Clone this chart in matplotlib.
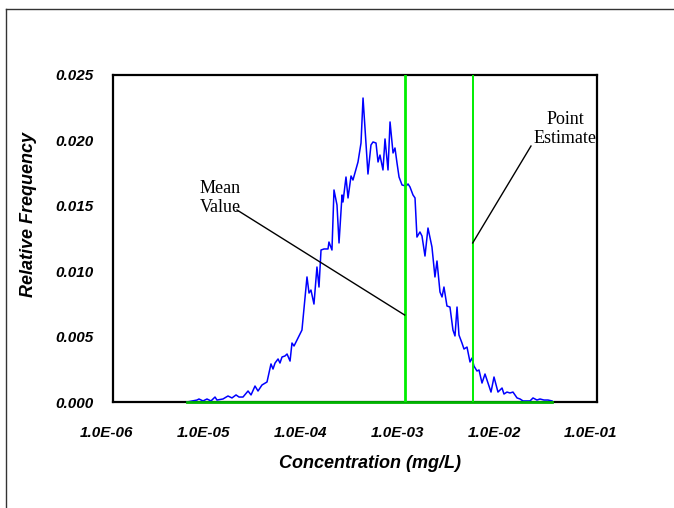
import matplotlib
matplotlib.use("Agg")
import matplotlib.pyplot as plt
import numpy as np
from matplotlib.transforms import ScaledTranslation
from matplotlib.lines import Line2D

# log10 of concentration (mg/L) for each histogram point
log_conc = [
    -5.236, -5.132, -5.112, -5.070, -5.029, -4.988, -4.946, -4.926, -4.864, -4.812,
    -4.771, -4.729, -4.698, -4.657, -4.605, -4.574, -4.533, -4.502, -4.461, -4.409,
    -4.368, -4.347, -4.326, -4.295, -4.275, -4.254, -4.223, -4.202, -4.171, -4.151,
    -4.130, -4.048, -3.996, -3.975, -3.955, -3.924, -3.893, -3.872, -3.851, -3.820,
    -3.779, -3.769, -3.738, -3.717, -3.686, -3.665, -3.634, -3.624, -3.593, -3.572,
    -3.541, -3.521, -3.469, -3.438, -3.417, -3.366, -3.335, -3.314, -3.283, -3.262,
    -3.242, -3.211, -3.190, -3.159, -3.138, -3.107, -3.087, -3.066, -3.045, -3.014,
    -2.973, -2.952, -2.932, -2.901, -2.880, -2.860, -2.829, -2.808, -2.777, -2.746,
    -2.705, -2.674, -2.653, -2.622, -2.601, -2.581, -2.550, -2.519, -2.488, -2.467,
    -2.446, -2.426, -2.395, -2.374, -2.343, -2.312, -2.291, -2.271, -2.240, -2.219,
    -2.188, -2.157, -2.126, -2.095, -2.064, -2.023, -1.981, -1.961, -1.930, -1.899,
    -1.868, -1.826, -1.795, -1.764, -1.692, -1.661, -1.620, -1.589, -1.548, -1.506,
    -1.465,
]
rel_freq = [
    0.00000, 0.00015, 0.00023, 0.00008, 0.00023, 0.00008, 0.00038, 0.00015, 0.00023, 0.00046,
    0.00031, 0.00054, 0.00038, 0.00038, 0.00084, 0.00054, 0.00122, 0.00084, 0.00130, 0.00153,
    0.00291, 0.00252, 0.00298, 0.00329, 0.00298, 0.00344, 0.00352, 0.00367, 0.00313, 0.00451,
    0.00428, 0.00550, 0.00956, 0.00833, 0.00856, 0.00749, 0.01032, 0.00879, 0.01162, 0.01170,
    0.01170, 0.01223, 0.01162, 0.01621, 0.01506, 0.01216, 0.01583, 0.01529, 0.01720, 0.01560,
    0.01728, 0.01697, 0.01835, 0.01980, 0.02324, 0.01743, 0.01965, 0.01988, 0.01980, 0.01835,
    0.01888, 0.01774, 0.02011, 0.01774, 0.02141, 0.01904, 0.01942, 0.01827, 0.01720, 0.01659,
    0.01651, 0.01667, 0.01644, 0.01583, 0.01560, 0.01261, 0.01300, 0.01269, 0.01116, 0.01330,
    0.01185, 0.00956, 0.01078, 0.00841, 0.00803, 0.00879, 0.00734, 0.00726, 0.00550, 0.00505,
    0.00726, 0.00512, 0.00451, 0.00405, 0.00420, 0.00306, 0.00336, 0.00275, 0.00237, 0.00245,
    0.00145, 0.00214, 0.00145, 0.00076, 0.00191, 0.00076, 0.00107, 0.00061, 0.00076, 0.00069,
    0.00076, 0.00031, 0.00023, 0.00008, 0.00008, 0.00031, 0.00015, 0.00023, 0.00015, 0.00015,
    0.00008,
]
mean_value = 1.03e-3
point_estimate = 5.2e-3
x_ticks = [1e-6, 1e-5, 1e-4, 1e-3, 1e-2, 1e-1]
x_tick_labels = ["1.0E-06", "1.0E-05", "1.0E-04", "1.0E-03", "1.0E-02", "1.0E-01"]
y_ticks = [0.0, 0.005, 0.010, 0.015, 0.020, 0.025]
y_tick_labels = ["0.000", "0.005", "0.010", "0.015", "0.020", "0.025"]

# annotation anchors (label position, leader line start, leader line end on marker)
mean_label_xy = (10 ** -4.89, 0.0156)
mean_leader_start = (10 ** -4.719, 0.01468)
mean_leader_end_y = 0.00665
pe_label_xy = (10 ** -1.33, 0.02087)
pe_leader_start = (10 ** -1.682, 0.01957)
pe_leader_end_y = 0.01216

conc = 10 ** np.array(log_conc)

W, H = 674, 508
fig = plt.figure(figsize=(W / 100, H / 100), dpi=100)
ax = fig.add_axes([113 / W, (H - 402) / H, 484 / W, 327 / H])

ax.plot(conc, rel_freq, color="#0000ff", lw=1.1, zorder=3)
# green reference series (baseline + vertical markers)
ax.plot([conc[0], conc[-1]], [0, 0], color="#00b400", lw=2.0, zorder=4, clip_on=False)
ax.plot([mean_value, mean_value], [0, 0.025], color="#00ee00", lw=2.0, zorder=4)
ax.plot([point_estimate, point_estimate], [0, 0.025], color="#00ee00", lw=1.4, zorder=4)

ax.set_xscale("log")
ax.set_xlim(1e-6, 1e-1)
ax.set_ylim(0, 0.025)
ax.set_xticks(x_ticks)
ax.set_xticklabels(x_tick_labels)
ax.set_yticks(y_ticks)
ax.set_yticklabels(y_tick_labels)
ax.minorticks_off()
ax.tick_params(axis="both", length=0)
ax.tick_params(axis="x", pad=17)
ax.tick_params(axis="y", pad=14)
for lab in ax.get_xticklabels() + ax.get_yticklabels():
    lab.set_fontfamily("Liberation Sans")
    lab.set_fontweight("bold")
    lab.set_fontstyle("italic")
    lab.set_fontsize(11)
for lab in ax.get_xticklabels():
    lab.set_transform(lab.get_transform() + ScaledTranslation(-6 / 100, 0, fig.dpi_scale_trans))

for s in ax.spines.values():
    s.set_linewidth(1.6)
    s.set_color("black")

ax.set_xlabel("Concentration (mg/L)", fontfamily="Liberation Sans", fontweight="bold",
              fontstyle="italic", fontsize=13)
ax.set_ylabel("Relative Frequency", fontfamily="Liberation Sans", fontweight="bold",
              fontstyle="italic", fontsize=13)
ax.xaxis.set_label_coords((370 - 113) / 484, -(455 - 402) / 327)
ax.yaxis.set_label_coords((37 - 113) / 484, (402 - 214) / 327)

# annotations
ax.text(*mean_label_xy, "Mean\nValue", ha="center", va="center", multialignment="center",
        fontfamily="Liberation Serif", fontsize=13, linespacing=1.12)
ax.plot([mean_leader_start[0], mean_value], [mean_leader_start[1], mean_leader_end_y],
        color="black", lw=1.0, zorder=5)
ax.text(*pe_label_xy, "Point\nEstimate", ha="center", va="center", multialignment="center",
        fontfamily="Liberation Serif", fontsize=13, linespacing=1.12, clip_on=False)
ax.plot([pe_leader_start[0], point_estimate], [pe_leader_start[1], pe_leader_end_y],
        color="black", lw=1.0, zorder=5)

# outer frame (partially out of view)
fig.add_artist(Line2D([5.5 / W, 5.5 / W], [0, 1 - 8.5 / H], transform=fig.transFigure,
                      color="#333333", lw=1.0))
fig.add_artist(Line2D([5.5 / W, 1], [1 - 8.5 / H, 1 - 8.5 / H], transform=fig.transFigure,
                      color="#333333", lw=1.0))

fig.savefig("out.png", dpi=100)
